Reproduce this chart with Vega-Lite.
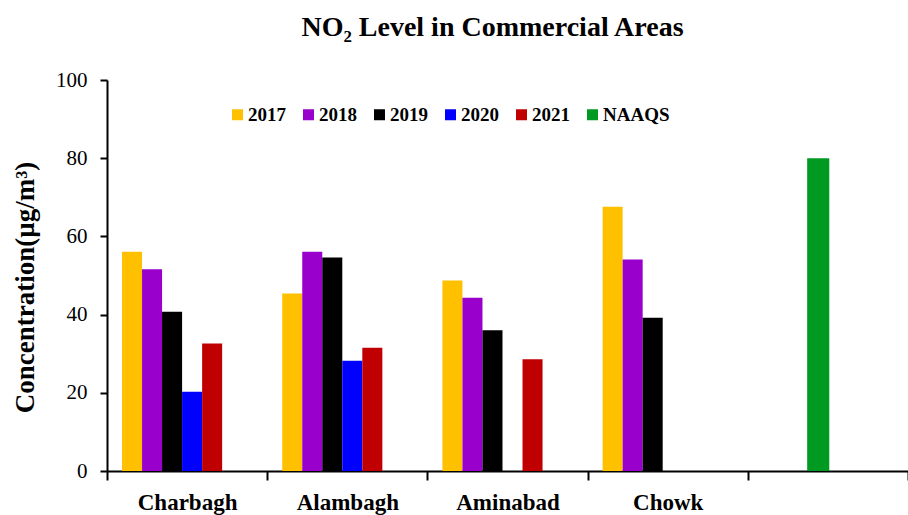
{
  "$schema": "https://vega.github.io/schema/vega-lite/v6.json",
  "width": 801,
  "height": 391,
  "autosize": "none",
  "padding": {"left": 107, "top": 80, "right": 0, "bottom": 44},
  "background": "white",
  "title": {
    "text": "NO₂ Level in Commercial Areas",
    "font": "Liberation Serif",
    "fontSize": 28,
    "fontWeight": "bold",
    "color": "black",
    "anchor": "middle",
    "frame": "group",
    "dx": -15,
    "offset": 27
  },
  "data": {
    "values": [
      {"area": "Charbagh", "series": "2017", "value": 56.1},
      {"area": "Charbagh", "series": "2018", "value": 51.6},
      {"area": "Charbagh", "series": "2019", "value": 40.7},
      {"area": "Charbagh", "series": "2020", "value": 20.3},
      {"area": "Charbagh", "series": "2021", "value": 32.6},
      {"area": "Alambagh", "series": "2017", "value": 45.4},
      {"area": "Alambagh", "series": "2018", "value": 56.1},
      {"area": "Alambagh", "series": "2019", "value": 54.6},
      {"area": "Alambagh", "series": "2020", "value": 28.2},
      {"area": "Alambagh", "series": "2021", "value": 31.5},
      {"area": "Aminabad", "series": "2017", "value": 48.7},
      {"area": "Aminabad", "series": "2018", "value": 44.3},
      {"area": "Aminabad", "series": "2019", "value": 36.0},
      {"area": "Aminabad", "series": "2021", "value": 28.6},
      {"area": "Chowk", "series": "2017", "value": 67.6},
      {"area": "Chowk", "series": "2018", "value": 54.1},
      {"area": "Chowk", "series": "2019", "value": 39.2},
      {"area": " ", "series": "NAAQS", "value": 80}
    ]
  },
  "encoding": {
    "x": {
      "field": "area",
      "type": "nominal",
      "sort": null,
      "scale": {"domain": ["Charbagh", "Alambagh", "Aminabad", "Chowk", " "], "paddingInner": 0, "paddingOuter": 0},
      "axis": {
        "title": null,
        "labelAngle": 0,
        "tickBand": "extent",
        "domainColor": "black",
        "domainWidth": 2,
        "tickColor": "black",
        "tickWidth": 2,
        "tickSize": 9,
        "labelFont": "Liberation Serif",
        "labelFontSize": 23,
        "labelFontWeight": "bold",
        "labelColor": "black",
        "labelPadding": 11
      }
    },
    "y": {
      "field": "value",
      "type": "quantitative",
      "scale": {"domain": [0, 100], "nice": false},
      "axis": {
        "title": "Concentration(µg/m³)",
        "values": [0, 20, 40, 60, 80, 100],
        "grid": false,
        "domainColor": "black",
        "domainWidth": 2,
        "tickColor": "black",
        "tickWidth": 2,
        "tickSize": 7,
        "labelFont": "Liberation Serif",
        "labelFontSize": 21,
        "labelColor": "black",
        "labelPadding": 13,
        "titleFont": "Liberation Serif",
        "titleFontSize": 27,
        "titleFontWeight": "bold",
        "titleColor": "black",
        "titlePadding": 16,
        "titleY": 207
      }
    },
    "color": {
      "field": "series",
      "type": "nominal",
      "scale": {
        "domain": ["2017", "2018", "2019", "2020", "2021", "NAAQS"],
        "range": ["#FFC000", "#9900CC", "#000000", "#0000FF", "#C00000", "#009A22"]
      },
      "legend": {
        "title": null,
        "orient": "none",
        "legendX": 121,
        "legendY": 25,
        "direction": "horizontal",
        "symbolType": "square",
        "symbolSize": 121,
        "symbolStrokeWidth": 0,
        "labelFont": "Liberation Serif",
        "labelFontSize": 19,
        "labelFontWeight": "bold",
        "labelColor": "black",
        "labelOffset": 1,
        "columnPadding": 13
      }
    }
  },
  "layer": [
    {
      "transform": [{"filter": "datum.series !== 'NAAQS'"}],
      "mark": {"type": "bar"},
      "encoding": {
        "xOffset": {
          "field": "series",
          "type": "nominal",
          "scale": {"domain": ["2017", "2018", "2019", "2020", "2021", "NAAQS"], "paddingInner": 0, "paddingOuter": 1, "align": 0.375}
        }
      }
    },
    {
      "transform": [{"filter": "datum.series === 'NAAQS'"}],
      "mark": {"type": "bar"},
      "encoding": {
        "xOffset": {
          "field": "series",
          "type": "nominal",
          "scale": {"domain": ["NAAQS"], "paddingInner": 0.68, "paddingOuter": 1, "align": 0.43}
        }
      }
    }
  ],
  "resolve": {"scale": {"xOffset": "independent"}},
  "config": {"view": {"stroke": null}}
}
